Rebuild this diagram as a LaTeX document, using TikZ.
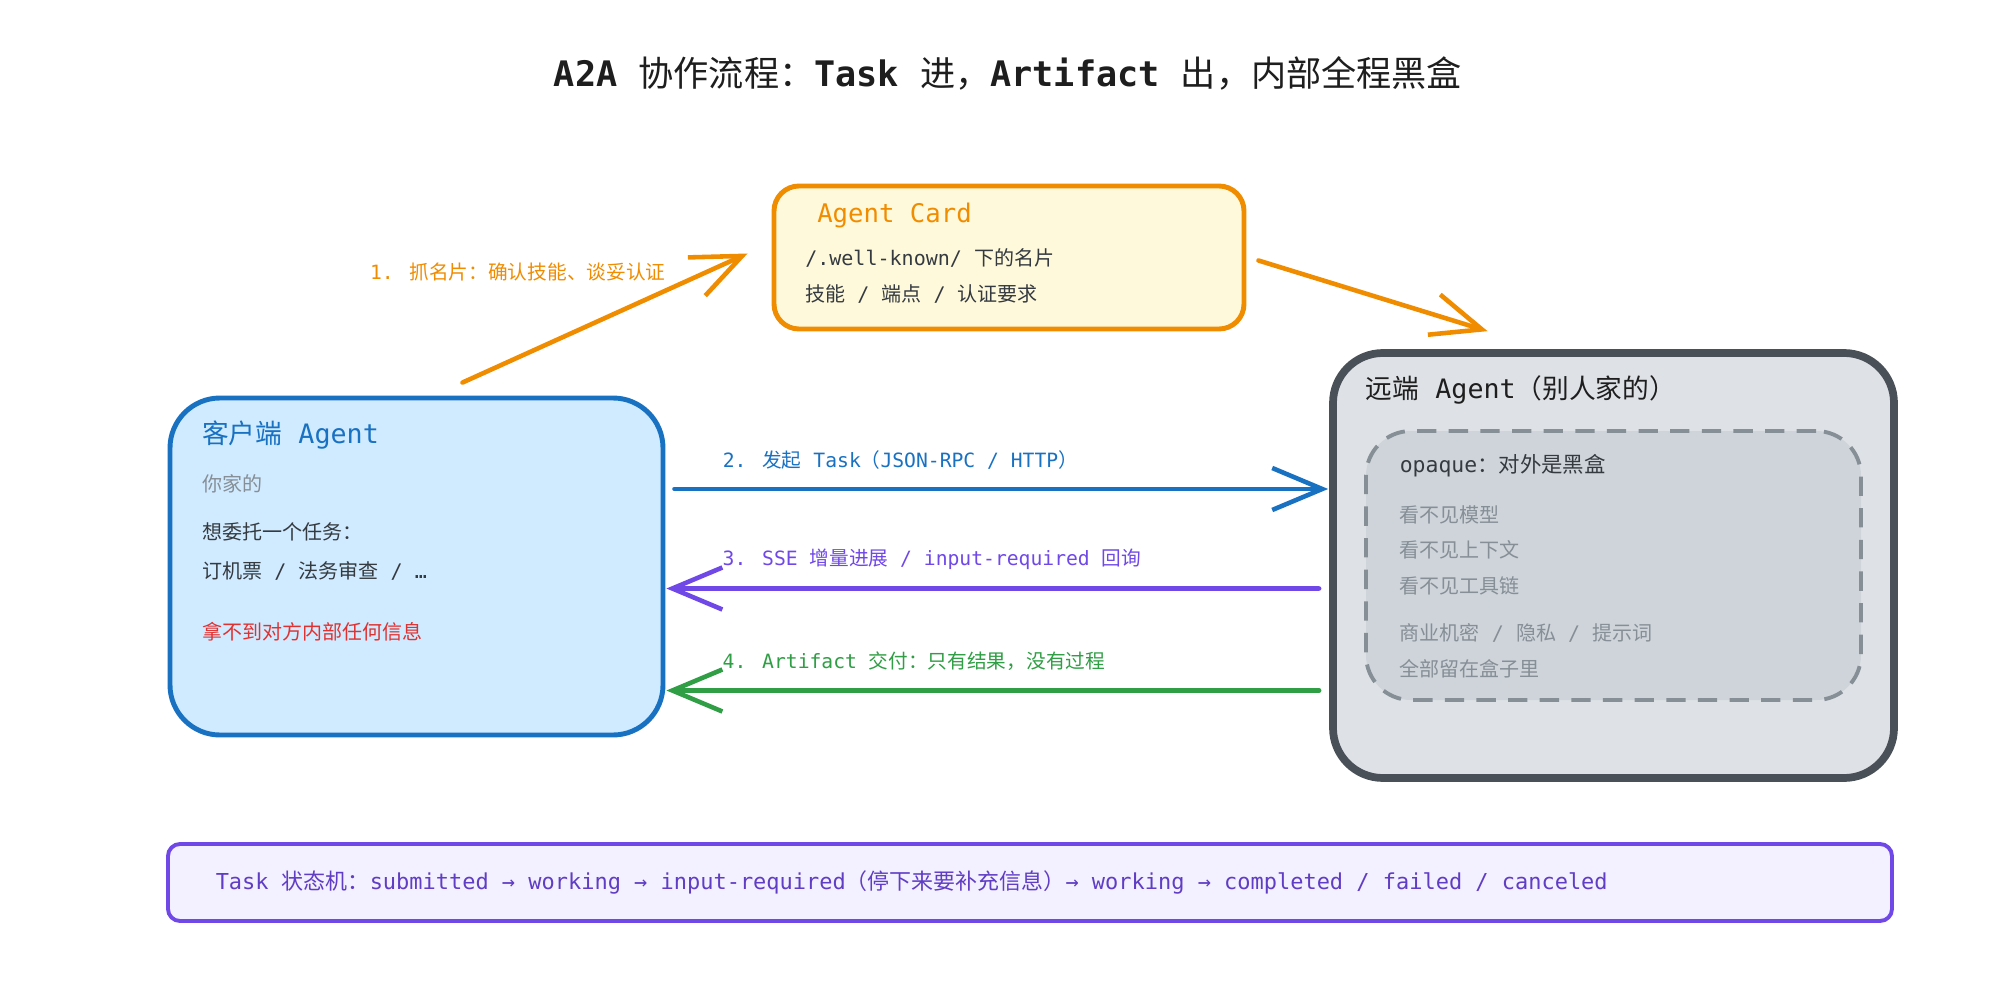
\documentclass[tikz,border=0pt]{standalone}
\usepackage{fontspec}
\setmainfont{Noto Sans CJK SC}
\newfontfamily\monofam{DejaVu Sans Mono}
\newcommand{\code}[1]{{\monofam #1}}
\usepackage{xcolor}
\usetikzlibrary{arrows.meta, positioning}

\definecolor{cardOrange}{HTML}{F08C00}
\definecolor{cardFill}{HTML}{FFF9DB}
\definecolor{clientBlue}{HTML}{1971C2}
\definecolor{clientFill}{HTML}{D0EBFF}
\definecolor{remoteGrey}{HTML}{495057}
\definecolor{remoteFill}{HTML}{DEE2E6}
\definecolor{innerGrey}{HTML}{868E96}
\definecolor{innerFill}{HTML}{CED4DA}
\definecolor{mutedGrey}{HTML}{868E96}
\definecolor{inkDark}{HTML}{343A40}
\definecolor{titleInk}{HTML}{1E1E1E}
\definecolor{alertRed}{HTML}{E03131}
\definecolor{streamViolet}{HTML}{7048E8}
\definecolor{flowGreen}{HTML}{2F9E44}
\definecolor{stateFill}{HTML}{F3F0FF}
\definecolor{stateText}{HTML}{5F3DC4}

\begin{document}
\begin{tikzpicture}[
    box/.style={rectangle, draw=#1, line width=1.4pt, rounded corners=0.45cm, inner sep=0pt},
    head/.style={anchor=west, inner sep=0pt, font=\fontsize{7.6pt}{9pt}\selectfont},
    txt/.style={anchor=west, inner sep=0pt, font=\fontsize{5.7pt}{7pt}\selectfont, text=inkDark},
    lbl/.style={inner sep=0pt, font=\fontsize{5.6pt}{7pt}\selectfont},
    flow/.style={-{Straight Barb[length=5mm, width=4.2mm]}, line width=1.3pt, line cap=round, line join=round},
]

% Canvas
\useasboundingbox (0,0) rectangle (20,9.98);
\fill[white] (0,0) rectangle (20,9.98);

% Title
\node[font=\fontsize{10pt}{12pt}\selectfont, text=titleInk] (title) at (10.08, 9.25) {\code{\bfseries A2A }协作流程：\code{\bfseries Task }进，\code{\bfseries Artifact }出，内部全程黑盒};

% Agent Card
\node[box=cardOrange, fill=cardFill, rounded corners=0.25cm, minimum width=4.70cm, minimum height=1.43cm] (card) at (10.09, 7.405) {};
\node[head, text=cardOrange, font=\fontsize{7.3pt}{9pt}\selectfont] (cardTitle) at ([shift={(0.45,-0.32)}]card.north west) {\code{Agent Card}};
\node[txt] (cardPath) at ([shift={(0.33,-0.74)}]card.north west) {\code{/.well-known/ }下的名片};
\node[txt] (cardSkills) at ([shift={(0.33,-1.10)}]card.north west) {技能\code{ / }端点\code{ / }认证要求};

% Client agent
\node[box=clientBlue, fill=clientFill, rounded corners=0.5cm, minimum width=4.93cm, minimum height=3.37cm] (client) at (4.165, 4.315) {};
\node[head, text=clientBlue] (clientTitle) at ([shift={(0.34,-0.39)}]client.north west) {客户端\code{ Agent}};
\node[txt, text=mutedGrey] (clientOwner) at ([shift={(0.34,-0.88)}]client.north west) {你家的};
\node[txt] (clientWish) at ([shift={(0.34,-1.36)}]client.north west) {想委托一个任务：};
\node[txt] (clientTasks) at ([shift={(0.34,-1.75)}]client.north west) {订机票\code{ / }法务审查\code{ / …}};
\node[txt, text=alertRed] (clientNote) at ([shift={(0.34,-2.36)}]client.north west) {拿不到对方内部任何信息};

% Remote agent
\node[box=remoteGrey, fill=remoteFill, line width=2.2pt, rounded corners=0.5cm, minimum width=5.61cm, minimum height=4.25cm] (remote) at (16.135, 4.325) {};
\node[head, text=titleInk] (remoteTitle) at ([shift={(0.36,-0.41)}]remote.north west) {远端\code{ Agent}（别人家的）};
\node[box=innerGrey, fill=innerFill, dashed, dash pattern=on 5.5pt off 3.5pt, line width=1.1pt, minimum width=4.95cm, minimum height=2.69cm] (inner) at (remote.center) {};
\node[txt, font=\fontsize{6.1pt}{7pt}\selectfont] (opaqueHead) at ([shift={(0.35,-0.37)}]inner.north west) {\code{opaque}：对外是黑盒};
\foreach \hidetxt/\dy [count=\i] in {看不见模型/-0.86, 看不见上下文/-1.21, 看不见工具链/-1.57, {商业机密\code{ / }隐私\code{ / }提示词}/-2.04, 全部留在盒子里/-2.40}
  \node[txt, text=mutedGrey] (hidden\i) at ([shift={(0.35,\dy)}]inner.north west) {\hidetxt};

% Task state machine
\node[box=streamViolet, fill=stateFill, line width=1.1pt, rounded corners=0.12cm, minimum width=17.24cm, minimum height=0.77cm] (states) at (10.30, 1.155) {};
\node[txt, font=\fontsize{6.25pt}{8pt}\selectfont, text=stateText, xshift=0.49cm] (statesText) at (states.west) {\code{Task }状态机：\code{submitted → working → input-required}（停下来要补充信息）\code{→ working → completed / failed / canceled}};

% Arrows
\draw[flow, cardOrange] ([shift={(0.46,0.13)}]client.north) -- ([shift={(-0.24,0.04)}]card.west)
    node[lbl, text=cardOrange, pos=0.72, anchor=east, yshift=0.18cm] (fetchLbl) {\code{1. }抓名片：确认技能、谈妥认证};
\draw[flow, cardOrange] ([shift={(0.12,-0.03)}]card.east) -- ([shift={(-1.26,0.18)}]remote.north);
\draw[flow, clientBlue] ([shift={(0.09,0.775)}]client.east) -- ([shift={(-0.01,0.765)}]remote.west)
    node[lbl, text=clientBlue, pos=0, anchor=west, xshift=0.46cm, yshift=0.29cm] (sendLbl) {\code{2. }发起\code{ Task}（\code{JSON-RPC / HTTP}）};
\draw[flow, streamViolet] ([shift={(-0.10,-0.23)}]remote.west) -- ([shift={(0.01,-0.22)}]client.east)
    node[lbl, text=streamViolet, pos=1, anchor=west, xshift=0.54cm, yshift=0.29cm] (streamLbl) {\code{3. SSE }增量进展\code{ / input-required }回询};
\draw[flow, flowGreen] ([shift={(-0.10,-1.25)}]remote.west) -- ([shift={(0.01,-1.24)}]client.east)
    node[lbl, text=flowGreen, pos=1, anchor=west, xshift=0.54cm, yshift=0.29cm] (deliverLbl) {\code{4. Artifact }交付：只有结果，没有过程};

\end{tikzpicture}
\end{document}
